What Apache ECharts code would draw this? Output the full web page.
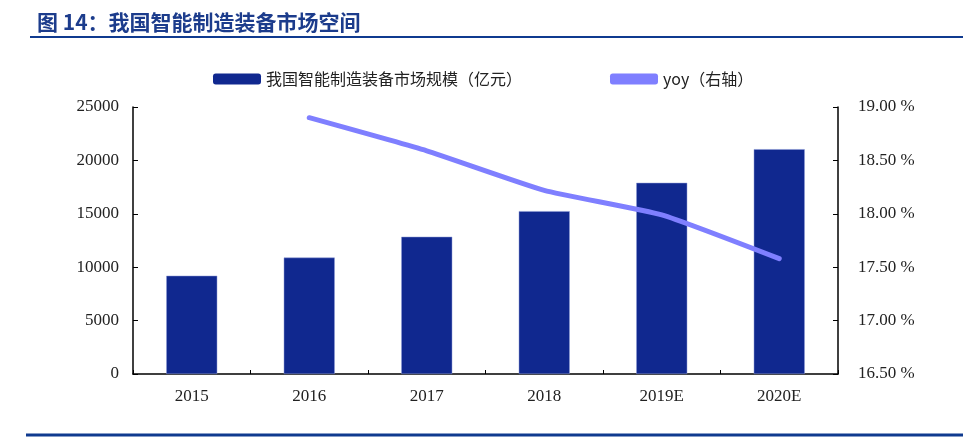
<!DOCTYPE html>
<html>
<head>
<meta charset="utf-8">
<style>
  html, body { margin: 0; padding: 0; background: #fff; }
  #main { width: 963px; height: 440px; }
</style>
<script src="https://cdn.jsdelivr.net/npm/echarts@6/dist/echarts.min.js"></script>
</head>
<body>
<div id="main"></div>
<script>
var years = ['2015', '2016', '2017', '2018', '2019E', '2020E'];
var marketSize = [9200, 10900, 12850, 15250, 17900, 21050];
var yoy = [null, 18.90, 18.59, 18.22, 17.99, 17.58];
var leftTicks = [0, 25000, 5000];
var rightTicks = [16.5, 19.0, 0.5];

var serif = '"Liberation Serif", "Noto Sans CJK SC", serif';
var chart = echarts.init(document.getElementById('main'));

var option = {
	animation: false,
	title: {
		text: '图 14：我国智能制造装备市场空间',
		left: 32,
		top: 7,
		textStyle: {
			color: '#1c3c8c',
			fontSize: 21,
			fontWeight: 'bold',
			fontFamily: '"Noto Sans CJK SC", sans-serif'
		}
	},
	graphic: [{
		type: 'line',
		shape: {x1: 30, y1: 37, x2: 963, y2: 37},
		style: {stroke: '#0f3a8f', lineWidth: 2}
	}, {
		type: 'line',
		shape: {x1: 26, y1: 435, x2: 963, y2: 435},
		style: {stroke: '#0f3a8f', lineWidth: 3}
	}],
	legend: {
		top: 66,
		left: 208,
		itemGap: 88,
		itemWidth: 48,
		itemHeight: 11,
		textStyle: {
			fontFamily: '"Noto Sans CJK SC", serif',
			fontSize: 16,
			color: '#222'
		},
		data: [
			{name: '我国智能制造装备市场规模（亿元）', icon: 'roundRect', itemStyle: {borderWidth: 0}},
			{name: 'yoy（右轴）', icon: 'roundRect'}
		]
	},
	grid: {left: 133, right: 125, top: 107, bottom: 66},
	xAxis: {
		type: 'category',
		data: years,
		axisLine: {lineStyle: {color: '#000', width: 1.5}},
		axisTick: {show: true, inside: true, length: 4, lineStyle: {color: '#000'}},
		axisLabel: {color: '#222', fontSize: 17, fontFamily: serif, margin: 14}
	},
	yAxis: [{
		type: 'value',
		min: leftTicks[0],
		max: leftTicks[1],
		interval: leftTicks[2],
		splitLine: {show: false},
		axisLine: {show: true, lineStyle: {color: '#000', width: 1.5}},
		axisTick: {show: true, inside: true, length: 5, lineStyle: {color: '#000'}},
		axisLabel: {
			color: '#222', fontSize: 17, fontFamily: serif, margin: 14,
			formatter: function (v) { return String(v); }
		}
	}, {
		type: 'value',
		min: rightTicks[0],
		max: rightTicks[1],
		interval: rightTicks[2],
		splitLine: {show: false},
		axisLine: {show: true, lineStyle: {color: '#000', width: 1.5}},
		axisTick: {show: true, inside: true, length: 5, lineStyle: {color: '#000'}},
		axisLabel: {
			color: '#222', fontSize: 17, fontFamily: serif, margin: 20,
			formatter: function (v) { return v.toFixed(2) + ' %'; }
		}
	}],
	series: [{
		name: '我国智能制造装备市场规模（亿元）',
		type: 'bar',
		data: marketSize,
		barWidth: 51,
		itemStyle: {color: '#10288f', borderColor: '#8d9bd6', borderWidth: 0.5}
	}, {
		name: 'yoy（右轴）',
		type: 'line',
		yAxisIndex: 1,
		data: yoy,
		smooth: 0.15,
		showSymbol: false,
		symbol: 'none',
		lineStyle: {color: '#7f7fff', width: 5, cap: 'round'},
		itemStyle: {color: '#7f7fff'}
	}]
};

chart.setOption(option);
</script>
</body>
</html>
